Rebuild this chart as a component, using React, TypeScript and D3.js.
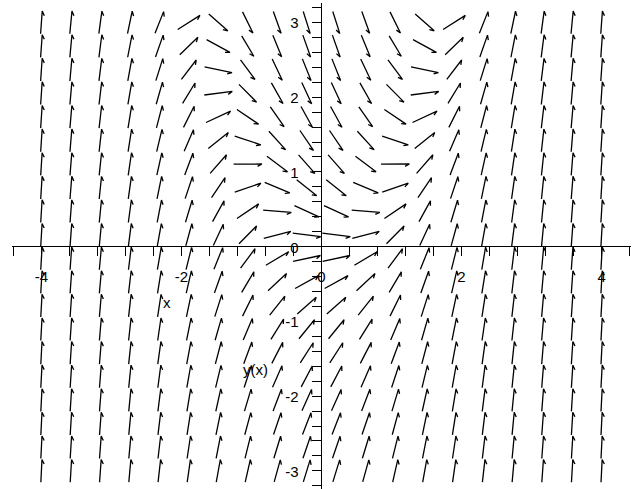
import React, { useEffect, useRef } from 'react';
import * as d3 from 'd3';

// 20 x 20 grid of the direction field
const gridX = [-4, -3.579, -3.158, -2.737, -2.316, -1.895, -1.474, -1.053, -0.632, -0.211,
  0.211, 0.632, 1.053, 1.474, 1.895, 2.316, 2.737, 3.158, 3.579, 4];
const gridY = [-3, -2.684, -2.368, -2.053, -1.737, -1.421, -1.105, -0.789, -0.474, -0.158,
  0.158, 0.474, 0.789, 1.105, 1.421, 1.737, 2.053, 2.368, 2.684, 3];

// the equation behind the field: flat along y = x^2, near vertical at |x| = 4
const slope = (x: number, y: number) => x * x - y;

// axis labels
const xLabels = [-4, -2, 0, 2, 4];
const yLabels = [-3, -2, -1, 0, 1, 2, 3];
const xStep = 0.4;
const yStep = 0.2;

const W = 641;
const H = 489;

function App() {
  const ref = useRef<SVGSVGElement>(null);

  useEffect(() => {
    const svg = d3.select(ref.current);
    svg.selectAll('*').remove();

    const x = d3.scaleLinear().domain([-4.42, 4.42]).range([12, 631]);
    const y = d3.scaleLinear().domain([-3.26, 3.26]).range([490.3, 3]);

    const font = '"Liberation Sans", Arial, sans-serif';
    const x0 = x(0);
    const y0 = y(0);

    // axes
    const axes = svg.append('g').attr('stroke', '#000').attr('stroke-width', 1).attr('shape-rendering', 'crispEdges');
    axes.append('line').attr('x1', x(-4.42)).attr('x2', x(4.42)).attr('y1', y0).attr('y2', y0);
    axes.append('line').attr('x1', x0).attr('x2', x0).attr('y1', y(3.26)).attr('y2', y(-3.26));

    const xt = d3.range(-11, 12).map(i => i * xStep);
    axes.selectAll('.xt').data(xt).enter().append('line')
      .attr('x1', d => x(d)).attr('x2', d => x(d))
      .attr('y1', y0).attr('y2', y0 + 9);

    const yt = d3.range(-16, 17).map(i => i * yStep);
    axes.selectAll('.yt').data(yt).enter().append('line')
      .attr('x1', x0 - 10).attr('x2', x0)
      .attr('y1', d => y(d)).attr('y2', d => y(d));

    // tick labels
    svg.append('g').selectAll('text').data(xLabels).enter().append('text')
      .attr('x', d => x(d)).attr('y', y0 + 35)
      .attr('text-anchor', 'middle')
      .attr('font-family', font).attr('font-size', 15)
      .text(d => String(d));

    svg.append('g').selectAll('text').data(yLabels).enter().append('text')
      .attr('x', x0 - 23).attr('y', d => y(d) + 6)
      .attr('text-anchor', 'end')
      .attr('font-family', font).attr('font-size', 15)
      .text(d => String(d));

    // axis titles, where maple put them
    svg.append('text').attr('x', 163).attr('y', 308)
      .attr('font-family', font).attr('font-size', 15).text('x');
    svg.append('text').attr('x', 243).attr('y', 375)
      .attr('font-family', font).attr('font-size', 15).text('y(x)');

    // arrows, scaled to the grid cell
    const hx = gridX[1] - gridX[0];
    const hy = gridY[1] - gridY[0];
    const s = 0.96;
    const pts: { x: number; y: number; m: number }[] = [];
    gridX.forEach(gx => gridY.forEach(gy => pts.push({ x: gx, y: gy, m: slope(gx, gy) })));

    const arrow = (d: { x: number; y: number; m: number }) => {
      let ux = 1 / hx;
      let uy = d.m / hy;
      const n = Math.hypot(ux, uy);
      ux /= n; uy /= n;
      const dx = ux * hx * s;
      const dy = uy * hy * s;
      const ax = x(d.x - dx / 2), ay = y(d.y - dy / 2);
      const bx = x(d.x + dx / 2), by = y(d.y + dy / 2);
      // one barb, like maple's small arrows
      const ang = Math.atan2(by - ay, bx - ax);
      const back = ang + Math.PI - 0.5;
      const hx2 = bx + 5 * Math.cos(back);
      const hy2 = by + 5 * Math.sin(back);
      return `M${ax},${ay}L${bx},${by}L${hx2},${hy2}`;
    };

    svg.append('g').selectAll('path').data(pts).enter().append('path')
      .attr('d', arrow)
      .attr('fill', 'none')
      .attr('stroke', '#000')
      .attr('stroke-width', 1.3);
  }, []);

  return (
    <svg ref={ref} width={W} height={H}
      style={{ position: 'absolute', left: 0, top: 0, background: '#fff' }} />
  );
}

export default App;
